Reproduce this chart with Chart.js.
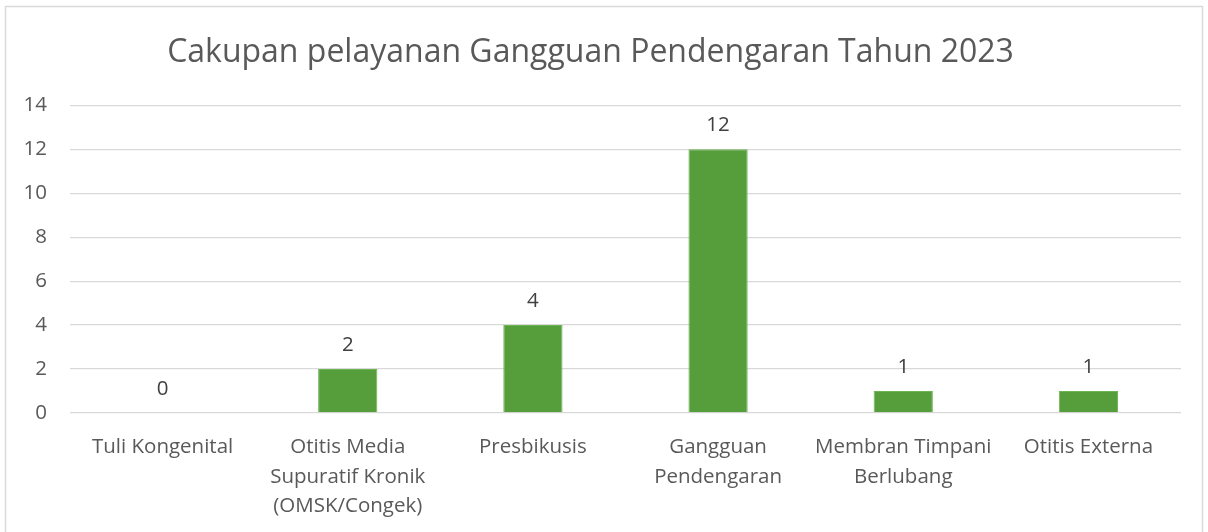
<!DOCTYPE html>
<html>
<head>
<meta charset="utf-8">
<script src="https://cdn.jsdelivr.net/npm/chart.js@4/dist/chart.umd.min.js"></script>
<style>
  html, body { margin: 0; padding: 0; background: #fff; }
  #wrap { width: 1208px; height: 532px; }
</style>
</head>
<body>
<div id="wrap"><canvas id="chart" width="1208" height="532"></canvas></div>
<script>
const chartTitle = 'Cakupan pelayanan Gangguan Pendengaran Tahun 2023';
const categories = [
    ['Tuli Kongenital'],
    ['Otitis Media', 'Supuratif Kronik', '(OMSK/Congek)'],
    ['Presbikusis'],
    ['Gangguan', 'Pendengaran'],
    ['Membran Timpani', 'Berlubang'],
    ['Otitis Externa']
];
const values = [0, 2, 4, 12, 1, 1];
const yTicks = [0, 2, 4, 6, 8, 10, 12, 14];

const FONT = '"Open Sans"';
const textColor = '#595959';

// frame around the whole chart, like the Excel chart border
const framePlugin = {
    id: 'frame',
    beforeDraw(chart) {
        const ctx = chart.ctx;
        ctx.save();
        ctx.strokeStyle = '#d9d9d9';
        ctx.lineWidth = 1.5;
        ctx.strokeRect(5.5, 6.5, chart.width - 11, chart.height + 20);
        ctx.restore();
    }
};

// value labels above each bar
const valueLabels = {
    id: 'valueLabels',
    afterDatasetsDraw(chart) {
        const ctx = chart.ctx;
        const meta = chart.getDatasetMeta(0);
        ctx.save();
        ctx.fillStyle = '#404040';
        ctx.font = '20.5px ' + FONT;
        ctx.textAlign = 'center';
        ctx.textBaseline = 'middle';
        meta.data.forEach((bar, i) => {
            ctx.fillText(String(values[i]), bar.x, bar.y - 24);
        });
        ctx.restore();
    }
};

new Chart(document.getElementById('chart'), {
    type: 'bar',
    data: {
        labels: categories,
        datasets: [{
            data: values,
            backgroundColor: '#559E3B',
            borderColor: '#6DB553',
            borderWidth: 1,
            barPercentage: 0.64,
            categoryPercentage: 0.5
        }]
    },
    options: {
        responsive: false,
        animation: false,
        layout: { padding: { left: 0, right: 27, top: 0, bottom: 0 } },
        plugins: {
            legend: { display: false },
            tooltip: { enabled: false },
            title: {
                display: true,
                text: chartTitle,
                color: textColor,
                font: { family: FONT, size: 32, weight: 'normal' },
                padding: { top: 34, bottom: 33 }
            }
        },
        scales: {
            x: {
                grid: { display: false, drawTicks: false },
                border: { display: false },
                ticks: {
                    color: textColor,
                    font: { family: FONT, size: 20.5, lineHeight: 1.42 },
                    padding: 20,
                    maxRotation: 0,
                    autoSkip: false
                },
                afterFit(scale) { scale.height = 119; }
            },
            y: {
                min: 0,
                max: 14,
                afterBuildTicks(scale) { scale.ticks = yTicks.map(v => ({ value: v })); },
                grid: { color: '#d9d9d9', lineWidth: 1.3, drawTicks: false },
                border: { display: false },
                ticks: {
                    color: textColor,
                    font: { family: FONT, size: 20.5 },
                    padding: 23
                },
                afterFit(scale) { scale.width = 70; }
            }
        }
    },
    plugins: [framePlugin, valueLabels]
});
</script>
</body>
</html>
